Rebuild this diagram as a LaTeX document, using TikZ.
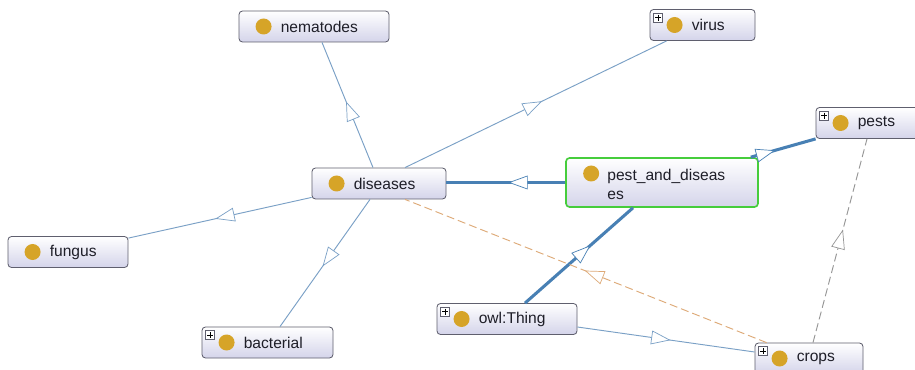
\documentclass[tikz,border=0pt]{standalone}
\usepackage{fontspec}
\setmainfont{Liberation Sans}
\usetikzlibrary{calc,decorations.markings}

\definecolor{boxline}{RGB}{95,95,110}
\definecolor{boxbot}{RGB}{212,212,234}
\definecolor{dotc}{RGB}{214,164,40}
\definecolor{isa}{RGB}{122,160,198}
\definecolor{isasel}{RGB}{72,128,180}
\definecolor{selgreen}{RGB}{70,205,60}
\definecolor{propor}{RGB}{222,170,120}
\definecolor{propgr}{RGB}{150,150,150}
\definecolor{clstxt}{RGB}{30,30,40}

\tikzset{
  cls/.style={rectangle, rounded corners=3pt, draw=boxline, line width=0.7pt,
    top color=white, bottom color=boxbot, minimum height=31*0.03cm, inner sep=0pt},
  selcls/.style={cls, draw=selgreen, line width=1.4pt, minimum height=49*0.03cm},
  clstext/.style={anchor=west, font=\fontsize{13.3}{16.2}\selectfont, text=clstxt,
    inner sep=0pt, align=left},
  tri/.style 2 args={postaction={decorate}, decoration={markings,
    mark=at position #1 with {\draw[solid, fill=white, line width=0.6pt, draw=#2]
      (0,0) -- (-18,6.5) -- (-18,-6.5) -- cycle;}}},
  isaline/.style={draw=isa, line width=0.8pt},
  selline/.style={draw=isasel, line width=2.6pt},
  propline/.style={line width=0.8pt, dash pattern=on 0.24cm off 0.12cm}
}

% class box: style, name, centre, width, text
\newcommand{\owlcls}[5][cls]{%
  \node[#1, minimum width=#4*0.03cm] (#2) at (#3) {};
  \fill[dotc] ($(#2.west)+(25,0)$) circle (0.24cm);
  \node[clstext] (#2-t) at ($(#2.west)+(42,0)$) {#5};
}
% the small plus box at the top left corner
\newcommand{\plusbox}[1]{%
  \draw[boxline, fill=white, line width=0.5pt] ($(#1.north west)+(4,4)$) rectangle +(9,9);
  \draw[black, line width=0.6pt] ($(#1.north west)+(5.5,8.5)$) -- +(6,0);
  \draw[black, line width=0.6pt] ($(#1.north west)+(8.5,5.5)$) -- +(0,6);
}

\begin{document}
\begin{tikzpicture}[x=0.03cm, y=-0.03cm]
\fill[white] (0,0) rectangle (915,370);
\useasboundingbox (0,0) rectangle (915,370);
\clip (0,0) rectangle (915,370);

\owlcls{nem}{314,26.5}{150}{nematodes}
\owlcls{vir}{702.5,25}{105}{virus}
\plusbox{vir}
\owlcls{dis}{379,183.5}{134}{diseases}
\owlcls{fun}{68,252}{120}{fungus}
\owlcls{bac}{267.5,342.5}{131}{bacterial}
\plusbox{bac}
\owlcls{owl}{507,319}{140}{owl:Thing}
\plusbox{owl}
\owlcls{pests}{871,123}{110}{pests}
\plusbox{pests}
\owlcls{crops}{809,358.5}{108}{crops}
\plusbox{crops}

% the selected class
\node[selcls, minimum width=192*0.03cm] (pd) at (662,182.5) {};
\fill[dotc] ($(pd.west)+(26,-9)$) circle (0.24cm);
\node[clstext] (pd-t) at ($(pd.west)+(42,2)$) {pest\_and\_diseas\\es};

% is-a links
\draw[isaline, tri={0.52}{isa}] ($(dis.north)+(-6,0)$) -- ($(nem.south)+(8,0)$);
\draw[isaline, tri={0.52}{isa}] ($(dis.north)+(26,0)$) -- ($(vir.south west)+(17,0)$);
\draw[isaline, tri={0.52}{isa}] ($(dis.south west)+(0,-2)$) -- ($(fun.north east)+(0,2)$);
\draw[isaline, tri={0.52}{isa}] ($(dis.south)+(-9,0)$) -- ($(bac.north)+(12.5,0)$);
\draw[isaline, tri={0.52}{isa}] ($(owl.east)+(0,8)$) -- ($(crops.west)+(0,-6.5)$);

\draw[selline, tri={0.47}{isasel}] (pd.west) -- (pd.west -| dis.east);
\draw[selline, tri={0.36}{isasel}] ($(pd.north east)+(-8,0)$) -- (pests.south west);
\draw[selline, tri={0.6}{isasel}] ($(owl.north)+(18,0)$) -- ($(pd.south)+(-29,0)$);

% property links
\draw[propline, draw=propor, tri={0.5}{propor}] ($(crops.north west)+(12,0)$) -- ($(dis.south)+(26,0)$);
\draw[propline, draw=propgr, tri={0.55}{propgr}] ($(crops.north)+(4,0)$) -- ($(pests.south)+(-4,0)$);

\end{tikzpicture}
\end{document}
